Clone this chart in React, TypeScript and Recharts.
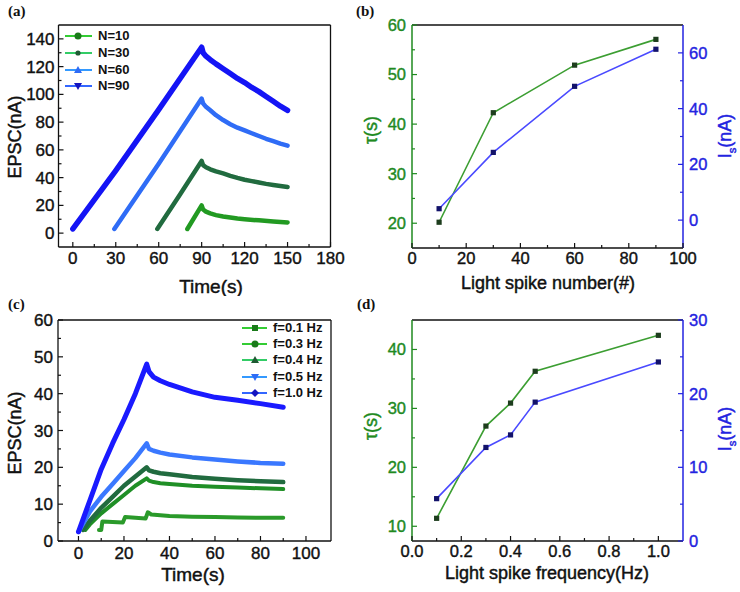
import React from 'react';
import { LineChart, Line, XAxis, YAxis, ReferenceLine } from 'recharts';

const FONT = "'Liberation Sans', Arial, sans-serif";
const INK = '#111';

// (a) EPSC traces for different light spike numbers
const tN10 = [80, 90, 91, 93, 96, 100, 105, 110, 115, 120, 130, 140, 150];
const iN10 = [3, 20, 17, 15.5, 14.2, 13, 12, 11.2, 10.5, 10, 9.2, 8.4, 7.7];
const tN30 = [59, 75, 90, 91, 93, 96, 100, 105, 110, 115, 120, 125, 130, 135, 140, 145, 150];
const iN30 = [3, 28, 52, 49, 47.5, 46, 44.5, 43, 41.3, 39.8, 38.5, 37.5, 36.5, 35.5, 34.7, 34, 33.3];
const tN60 = [29, 60, 90, 91, 93, 96, 100, 105, 110, 115, 120, 125, 130, 135, 140, 145, 150];
const iN60 = [3, 50, 97, 93.5, 91, 88.5, 85, 81.5, 78.5, 76, 74, 72, 70, 68, 66.3, 64.5, 63];
const tN90 = [0, 30, 60, 90, 91, 93, 96, 100, 105, 110, 115, 120, 125, 130, 135, 140, 145, 150];
const iN90 = [3, 45, 89, 134, 130, 127.5, 125, 122, 118.5, 115, 111.5, 108.5, 105, 102, 98.5, 95, 91.5, 88.5];

// (b) tau and Is vs spike number
const spikeNumbers = [10, 30, 60, 90];
const tauByNumber = [20.2, 42.3, 51.9, 57.1];
const isByNumber = [4.1, 24.3, 48, 61.3];

// (c) EPSC traces for different spike frequencies
const tF01 = [9, 10, 10.5, 19.5, 20.5, 29.5, 30.5, 32, 40, 50, 60, 70, 80, 90];
const iF01 = [3, 3, 5.3, 5, 6.5, 6.1, 7.8, 7.2, 6.8, 6.6, 6.5, 6.4, 6.3, 6.3];
const tF03 = [3, 5, 10, 15, 20, 25, 30, 31, 33, 36, 40, 50, 60, 70, 80, 90];
const iF03 = [3, 4.5, 7.5, 10, 12.5, 15, 17, 16.4, 16, 15.7, 15.5, 15, 14.7, 14.5, 14.3, 14.1];
const tF04 = [2, 5, 10, 15, 20, 25, 30, 31, 33, 36, 40, 50, 60, 70, 80, 90];
const iF04 = [3, 5.5, 9, 12, 15, 17.5, 20, 19.2, 18.8, 18.4, 18.1, 17.4, 16.9, 16.5, 16.2, 16];
const tF05 = [0, 5, 10, 15, 20, 25, 30, 31, 33, 36, 40, 50, 60, 70, 80, 90];
const iF05 = [2.5, 8, 12, 15.5, 19, 22.5, 26.5, 25, 24.5, 24, 23.5, 22.7, 22.1, 21.6, 21.2, 21];
const tF10 = [0, 5, 10, 15, 20, 25, 30, 31, 33, 36, 40, 50, 60, 70, 80, 90];
const iF10 = [2.5, 11, 19.5, 26.5, 33, 40, 48, 46, 44.5, 43.5, 42.5, 40.5, 39, 38.2, 37.3, 36.3];

// (d) tau and Is vs spike frequency
const spikeFreqs = [0.1, 0.3, 0.4, 0.5, 1.0];
const tauByFreq = [11.35, 27.0, 30.9, 36.3, 42.4];
const isByFreq = [5.75, 12.7, 14.4, 18.85, 24.3];

// tick values
const aXMajor = [0, 30, 60, 90, 120, 150, 180];
const aXMinor = [15, 45, 75, 105, 135, 165];
const aYMajor = [0, 20, 40, 60, 80, 100, 120, 140];
const aYMinor = [10, 30, 50, 70, 90, 110, 130];
const bXMajor = [0, 20, 40, 60, 80, 100];
const bXMinor = [10, 30, 50, 70, 90];
const bLMajor = [20, 30, 40, 50, 60];
const bLMinor = [25, 35, 45, 55];
const bRMajor = [0, 20, 40, 60];
const bRMinor = [10, 30, 50];
const cXMajor = [0, 20, 40, 60, 80, 100];
const cXMinor = [10, 30, 50, 70, 90];
const cYMajor = [0, 10, 20, 30, 40, 50, 60];
const cYMinor = [5, 15, 25, 35, 45, 55];
const dXMajor = [0, 0.2, 0.4, 0.6, 0.8, 1.0];
const dXMinor = [0.1, 0.3, 0.5, 0.7, 0.9];
const dLMajor = [10, 20, 30, 40];
const dLMinor = [15, 25, 35];
const dRMajor = [0, 10, 20, 30];
const dRMinor = [5, 15, 25];

const GREEN_AX = '#1f8a1f';
const BLUE_AX = '#2323e0';

const pairs = (t: number[], v: number[]) => t.map((x, i) => ({ t: x, v: v[i] }));
const allTicks = (a: number[], b: number[]) => [...a, ...b].sort((p, q) => p - q);

const seriesA = [
  { name: 'N=10', data: pairs(tN10, iN10), color: '#229a22', width: 4.5, legend: '#33cc33', mark: '#1a7a1a', shape: 'circle' },
  { name: 'N=30', data: pairs(tN30, iN30), color: '#216b3f', width: 4.5, legend: '#33cc66', mark: '#1f5a33', shape: 'dot' },
  { name: 'N=60', data: pairs(tN60, iN60), color: '#2f6cf6', width: 4.5, legend: '#3399ff', mark: '#2f6cf6', shape: 'up' },
  { name: 'N=90', data: pairs(tN90, iN90), color: '#1414f5', width: 5.5, legend: '#3366ff', mark: '#1414c0', shape: 'down' },
];

const seriesC = [
  { name: 'f=0.1 Hz', data: pairs(tF01, iF01), color: '#2a9a2a', width: 4, legend: '#33cc33', mark: '#1a7a1a', shape: 'square' },
  { name: 'f=0.3 Hz', data: pairs(tF03, iF03), color: '#1f8f26', width: 4, legend: '#33cc33', mark: '#1a7a1a', shape: 'circle' },
  { name: 'f=0.4 Hz', data: pairs(tF04, iF04), color: '#216b3f', width: 4.5, legend: '#33cc66', mark: '#1f5a33', shape: 'up' },
  { name: 'f=0.5 Hz', data: pairs(tF05, iF05), color: '#3a78ff', width: 4.5, legend: '#3399ff', mark: '#2f6cf6', shape: 'down' },
  { name: 'f=1.0 Hz', data: pairs(tF10, iF10), color: '#1a1aff', width: 5, legend: '#3366ff', mark: '#1414c0', shape: 'diamond' },
];

type Side = 'bottom' | 'left' | 'right';

function makeTick(side: Side, major: number[], color: string, fontSize: number, gap: number, fmt: (v: number) => string = String) {
  return (props: any) => {
    const { x, y, payload } = props;
    const v = payload.value;
    const isMajor = major.some((m) => Math.abs(m - v) < 1e-6);
    const len = isMajor ? 5 : 3;
    const txt = { fill: color, fontSize, fontFamily: FONT, stroke: color, strokeWidth: 0.4 };
    if (side === 'bottom') {
      return (
        <g>
          <line x1={x} y1={y} x2={x} y2={y - len} stroke={color} strokeWidth={1.2} />
          {isMajor && (
            <text x={x} y={y + gap} textAnchor="middle" {...txt}>
              {fmt(v)}
            </text>
          )}
        </g>
      );
    }
    const dir = side === 'left' ? 1 : -1;
    return (
      <g>
        <line x1={x} y1={y} x2={x + dir * len} y2={y} stroke={color} strokeWidth={1.2} />
        {isMajor && (
          <text x={x - dir * gap} y={y} dy="0.36em" textAnchor={side === 'left' ? 'end' : 'start'} {...txt}>
            {fmt(v)}
          </text>
        )}
      </g>
    );
  };
}

// axis title at a fixed spot of the chart's svg (px/py so recharts' cloned x/y don't override it)
function Title(props: any) {
  const { px, py, text, rotate, color = INK, size = 18, sub } = props;
  return (
    <text
      transform={`translate(${px},${py})${rotate ? ' rotate(-90)' : ''}`}
      textAnchor="middle"
      dy="0.36em"
      fill={color}
      stroke={color}
      strokeWidth={0.45}
      fontSize={size}
      fontFamily={FONT}
    >
      {sub ? (
        <>
          {text}
          <tspan fontSize={size * 0.62} dy={5}>{sub}</tspan>
          <tspan dy={-5}>(nA)</tspan>
        </>
      ) : (
        text
      )}
    </text>
  );
}

function Marker({ shape, color }: { shape: string; color: string }) {
  const c = 14;
  const m = 6;
  if (shape === 'circle') return <circle cx={c} cy={m} r={3.5} fill={color} />;
  if (shape === 'dot') return <circle cx={c} cy={m} r={2.6} fill={color} />;
  if (shape === 'square') return <rect x={c - 3} y={m - 3} width={6} height={6} fill={color} />;
  if (shape === 'up') return <polygon points={`${c - 4},${m + 3} ${c + 4},${m + 3} ${c},${m - 4}`} fill={color} />;
  if (shape === 'down') return <polygon points={`${c - 4},${m - 3} ${c + 4},${m - 3} ${c},${m + 4}`} fill={color} />;
  return <polygon points={`${c},${m - 4} ${c + 4},${m} ${c},${m + 4} ${c - 4},${m}`} fill={color} />;
}

function SeriesLegend({ items, left, top, rowH, lineW }: any) {
  return (
    <div style={{ position: 'absolute', left, top, fontFamily: FONT, fontWeight: 'bold', fontSize: 13, color: INK }}>
      {items.map((s: any) => (
        <div key={s.name} style={{ display: 'flex', alignItems: 'center', height: rowH }}>
          <svg width={lineW} height={12} style={{ marginRight: 5 }}>
            <line x1={1} y1={6} x2={lineW - 1} y2={6} stroke={s.legend} strokeWidth={2} />
            <Marker shape={s.shape} color={s.mark} />
          </svg>
          <span style={{ lineHeight: '12px' }}>{s.name}</span>
        </div>
      ))}
    </div>
  );
}

const squareDot = (fill: string) => (p: any) => (
  <rect key={`sq-${p.index}`} x={p.cx - 2.6} y={p.cy - 2.6} width={5.2} height={5.2} fill={fill} />
);

const panelLabel: React.CSSProperties = {
  position: 'absolute',
  fontFamily: "'Liberation Serif', 'Times New Roman', serif",
  fontWeight: 'bold',
  fontSize: 15,
  color: INK,
};

export default function App() {
  return (
    <div style={{ position: 'absolute', left: 0, top: 0, width: 740, height: 592, background: '#fff' }}>
      {/* (a) */}
      <div style={{ position: 'absolute', left: 0, top: 0 }}>
        <LineChart width={370} height={296} margin={{ top: 25, right: 39.5, bottom: 0, left: 0 }}>
          <XAxis
            type="number"
            dataKey="t"
            domain={[-10, 180]}
            allowDataOverflow
            ticks={allTicks(aXMajor, aXMinor)}
            interval={0}
            height={49}
            tickSize={0}
            tickMargin={0}
            axisLine={{ stroke: INK, strokeWidth: 1.3 }}
            tick={makeTick('bottom', aXMajor, INK, 17, 17)}
            label={<Title px={211} py={286} text="Time(s)" size={19} />}
          />
          <YAxis
            type="number"
            domain={[-10, 150]}
            allowDataOverflow
            ticks={allTicks(aYMajor, aYMinor)}
            interval={0}
            width={58.5}
            tickSize={0}
            tickMargin={0}
            axisLine={{ stroke: INK, strokeWidth: 1.3 }}
            tick={makeTick('left', aYMajor, INK, 17, 4)}
            label={<Title px={15} py={137} text="EPSC(nA)" rotate size={18} />}
          />
          <ReferenceLine y={150} stroke={INK} strokeWidth={1.3} />
          <ReferenceLine x={180} stroke={INK} strokeWidth={1.3} />
          {seriesA.map((s) => (
            <Line
              key={s.name}
              data={s.data}
              dataKey="v"
              stroke={s.color}
              strokeWidth={s.width}
              strokeLinejoin="round"
              strokeLinecap="round"
              dot={false}
              isAnimationActive={false}
            />
          ))}
        </LineChart>
        <SeriesLegend items={seriesA} left={64} top={28} rowH={16.7} lineW={29} />
        <div style={{ ...panelLabel, left: 8, top: 3 }}>(a)</div>
      </div>

      {/* (b) */}
      <div style={{ position: 'absolute', left: 350, top: 0 }}>
        <LineChart
          width={390}
          height={296}
          data={spikeNumbers.map((n, i) => ({ t: n, tau: tauByNumber[i], is: isByNumber[i] }))}
          margin={{ top: 25, right: 0, bottom: 0, left: 0 }}
        >
          <XAxis
            type="number"
            dataKey="t"
            domain={[0, 100]}
            allowDataOverflow
            ticks={allTicks(bXMajor, bXMinor)}
            interval={0}
            height={48}
            tickSize={0}
            tickMargin={0}
            axisLine={{ stroke: INK, strokeWidth: 1.3 }}
            tick={makeTick('bottom', bXMajor, INK, 16.5, 16)}
            label={<Title px={198} py={283} text="Light spike number(#)" size={18} />}
          />
          <YAxis
            yAxisId="left"
            type="number"
            domain={[15, 60]}
            allowDataOverflow
            ticks={allTicks(bLMajor, bLMinor)}
            interval={0}
            width={62}
            tickSize={0}
            tickMargin={0}
            axisLine={{ stroke: GREEN_AX, strokeWidth: 1.5 }}
            tick={makeTick('left', bLMajor, GREEN_AX, 16.5, 6)}
            label={<Title px={21} py={130} text="τ(s)" rotate color={GREEN_AX} size={18} />}
          />
          <YAxis
            yAxisId="right"
            orientation="right"
            type="number"
            domain={[-10, 70]}
            allowDataOverflow
            ticks={allTicks(bRMajor, bRMinor)}
            interval={0}
            width={57}
            tickSize={0}
            tickMargin={0}
            axisLine={{ stroke: BLUE_AX, strokeWidth: 1.5 }}
            tick={makeTick('right', bRMajor, BLUE_AX, 16.5, 6)}
            label={<Title px={375} py={136} text="I" sub="s" rotate color={BLUE_AX} size={18} />}
          />
          <ReferenceLine yAxisId="left" y={60} stroke={INK} strokeWidth={1.3} />
          <Line yAxisId="left" dataKey="tau" stroke="#3c9e32" strokeWidth={1.6} dot={squareDot('#1d3d1d')} isAnimationActive={false} />
          <Line yAxisId="right" dataKey="is" stroke="#4a4aff" strokeWidth={1.6} dot={squareDot('#12126a')} isAnimationActive={false} />
        </LineChart>
        <div style={{ ...panelLabel, left: 6, top: 3 }}>(b)</div>
      </div>

      {/* (c) */}
      <div style={{ position: 'absolute', left: 0, top: 296 }}>
        <LineChart width={370} height={296} margin={{ top: 24, right: 39, bottom: 0, left: 0 }}>
          <XAxis
            type="number"
            dataKey="t"
            domain={[-9, 111]}
            allowDataOverflow
            ticks={allTicks(cXMajor, cXMinor)}
            interval={0}
            height={51}
            tickSize={0}
            tickMargin={0}
            axisLine={{ stroke: INK, strokeWidth: 1.3 }}
            tick={makeTick('bottom', cXMajor, INK, 17, 18)}
            label={<Title px={193} py={278} text="Time(s)" size={19} />}
          />
          <YAxis
            type="number"
            domain={[0, 60]}
            allowDataOverflow
            ticks={allTicks(cYMajor, cYMinor)}
            interval={0}
            width={58}
            tickSize={0}
            tickMargin={0}
            axisLine={{ stroke: INK, strokeWidth: 1.3 }}
            tick={makeTick('left', cYMajor, INK, 17, 5)}
            label={<Title px={15} py={137} text="EPSC(nA)" rotate size={18} />}
          />
          <ReferenceLine y={60} stroke={INK} strokeWidth={1.3} />
          <ReferenceLine x={111} stroke={INK} strokeWidth={1.3} />
          {seriesC.map((s) => (
            <Line
              key={s.name}
              data={s.data}
              dataKey="v"
              stroke={s.color}
              strokeWidth={s.width}
              strokeLinejoin="round"
              strokeLinecap="round"
              dot={false}
              isAnimationActive={false}
            />
          ))}
        </LineChart>
        <SeriesLegend items={seriesC} left={241} top={24} rowH={16.2} lineW={27} />
        <div style={{ ...panelLabel, left: 8, top: 0 }}>(c)</div>
      </div>

      {/* (d) */}
      <div style={{ position: 'absolute', left: 350, top: 296 }}>
        <LineChart
          width={390}
          height={296}
          data={spikeFreqs.map((f, i) => ({ t: f, tau: tauByFreq[i], is: isByFreq[i] }))}
          margin={{ top: 24, right: 0, bottom: 0, left: 0 }}
        >
          <XAxis
            type="number"
            dataKey="t"
            domain={[0, 1.1]}
            allowDataOverflow
            ticks={allTicks(dXMajor, dXMinor)}
            interval={0}
            height={51}
            tickSize={0}
            tickMargin={0}
            axisLine={{ stroke: INK, strokeWidth: 1.3 }}
            tick={makeTick('bottom', dXMajor, INK, 16.5, 16, (v) => v.toFixed(1))}
            label={<Title px={197} py={277} text="Light spike frequency(Hz)" size={18} />}
          />
          <YAxis
            yAxisId="left"
            type="number"
            domain={[7.5, 45]}
            allowDataOverflow
            ticks={allTicks(dLMajor, dLMinor)}
            interval={0}
            width={62}
            tickSize={0}
            tickMargin={0}
            axisLine={{ stroke: GREEN_AX, strokeWidth: 1.5 }}
            tick={makeTick('left', dLMajor, GREEN_AX, 16.5, 6)}
            label={<Title px={21} py={130} text="τ(s)" rotate color={GREEN_AX} size={18} />}
          />
          <YAxis
            yAxisId="right"
            orientation="right"
            type="number"
            domain={[0, 30]}
            allowDataOverflow
            ticks={allTicks(dRMajor, dRMinor)}
            interval={0}
            width={57}
            tickSize={0}
            tickMargin={0}
            axisLine={{ stroke: BLUE_AX, strokeWidth: 1.5 }}
            tick={makeTick('right', dRMajor, BLUE_AX, 16.5, 6)}
            label={<Title px={375} py={133} text="I" sub="s" rotate color={BLUE_AX} size={18} />}
          />
          <ReferenceLine yAxisId="left" y={45} stroke={INK} strokeWidth={1.3} />
          <Line yAxisId="left" dataKey="tau" stroke="#3c9e32" strokeWidth={1.6} dot={squareDot('#1d3d1d')} isAnimationActive={false} />
          <Line yAxisId="right" dataKey="is" stroke="#4a4aff" strokeWidth={1.6} dot={squareDot('#12126a')} isAnimationActive={false} />
        </LineChart>
        <div style={{ ...panelLabel, left: 7, top: 0 }}>(d)</div>
      </div>
    </div>
  );
}
